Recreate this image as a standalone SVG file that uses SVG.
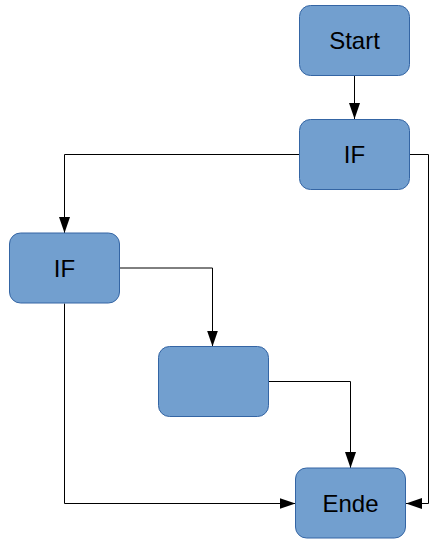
<svg xmlns="http://www.w3.org/2000/svg" width="442" height="549" viewBox="0 0 442 549">
<defs>
<style>
.node rect{fill:#729fcf;stroke:#3465a4;stroke-width:1}
.node text{font-family:"Liberation Sans",Arial,sans-serif;font-size:24px;fill:#000;text-anchor:middle}
.conn path{fill:none;stroke:#000;stroke-width:1}
</style>
<marker id="ah" viewBox="0 0 16 11" refX="16" refY="5.5" markerWidth="16" markerHeight="11" markerUnits="userSpaceOnUse" orient="auto">
<path d="M0,0 L16,5.5 L0,11 Z" fill="#000"/>
</marker>
</defs>
<rect width="442" height="549" fill="#fff"/>
<g id="connectors" class="conn">
<path d="M354.5,76 V119" marker-end="url(#ah)"/>
<path d="M299.5,154.5 H64.5 V233" marker-end="url(#ah)"/>
<path d="M409.5,154.5 H428.5 V503.5 H406" marker-end="url(#ah)"/>
<path d="M119.5,268 H212.5 V346.5" marker-end="url(#ah)"/>
<path d="M64.5,303.5 V503.5 H295.5" marker-end="url(#ah)"/>
<path d="M268.5,381.5 H350.5 V468" marker-end="url(#ah)"/>
</g>
<g id="start" class="node">
<rect x="299.5" y="5.5" width="110" height="70" rx="11"/>
<text x="354.5" y="49">Start</text>
</g>
<g id="if1" class="node">
<rect x="299.5" y="119.5" width="110" height="70" rx="11"/>
<text x="354.5" y="163">IF</text>
</g>
<g id="if2" class="node">
<rect x="9.5" y="233" width="110" height="70" rx="11"/>
<text x="64.5" y="276.5">IF</text>
</g>
<g id="task" class="node">
<rect x="158.5" y="346.5" width="110" height="70" rx="11"/>
</g>
<g id="ende" class="node">
<rect x="295.5" y="468" width="110" height="70" rx="11"/>
<text x="350.5" y="511.5">Ende</text>
</g>
</svg>
